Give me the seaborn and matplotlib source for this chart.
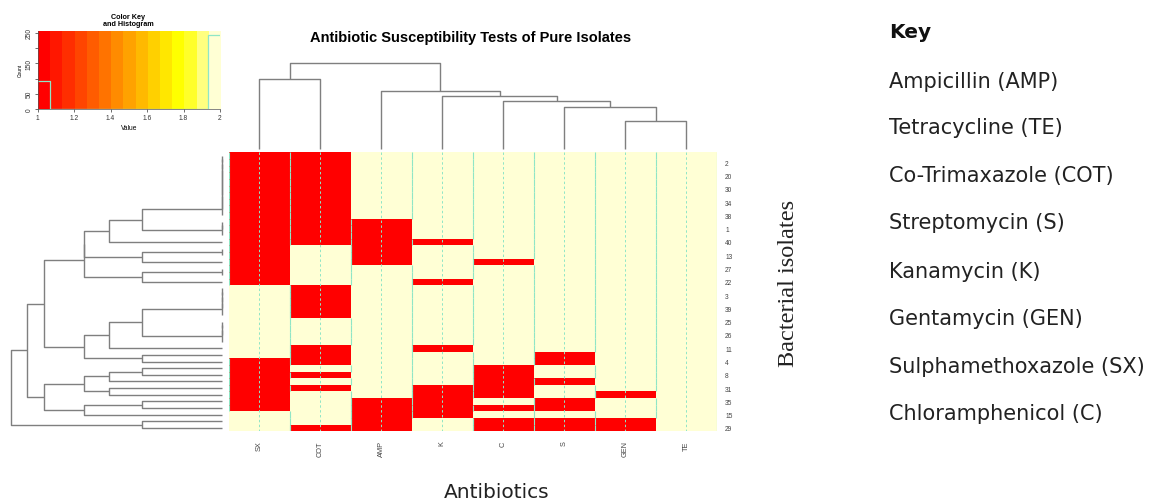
import numpy as np
import pandas as pd
import matplotlib
matplotlib.use("Agg")
import matplotlib.pyplot as plt
import seaborn as sns
from matplotlib.colors import ListedColormap, hsv_to_rgb
from matplotlib.collections import LineCollection

# ---------------- data ----------------
antibiotics = ["SX", "COT", "AMP", "K", "C", "S", "GEN", "TE"]

# value per isolate row (top to bottom, 42 rows): 1 = red, 2 = cream
SX  = "1111111111" "1111111111" "2222222222" "2" "11111111" "222"
COT = "1111111111" "1111" "222222" "11111" "2222" "111" "2" "1" "2" "1" "22222" "1"
AMP = "2222222222" "1111111" "2222222222" "2222222222" "11111"
K   = "2222222222" "222" "1" "22222" "1" "222222222" "1" "22222" "11111" "22"
C   = "2222222222" "222222" "1" "2222222222" "22222" "11111" "2" "1" "2" "11"
S   = "2222222222" "2222222222" "2222222222" "11" "22" "1" "22" "11" "2" "11"
GEN = "2222222222" "2222222222" "2222222222" "222222" "1" "222" "11"
TE  = "2222222222" "2222222222" "2222222222" "2222222222" "22"

# isolate labels printed on the right (every other row, as drawn)
isolate_labels = ["2", "20", "30", "34", "38", "1", "40", "13", "27", "22",
                  "3", "39", "25", "26", "11", "4", "8", "31", "35", "15", "29"]

# dendrogram topologies (leaf = row / column index)
tie_top = [[[[[[[[[0, 1], 2], 3], 4], 5], 6], 7], 8], 9]
branch_A = [[[tie_top, [[10, 11], 12]], 13], [[14, 15], 16]]
branch_E = [branch_A, [[17, 18], 19]]
branch_J = [[[[[20, 21], 22], 23], 24], [[[25, 26], 27], 28]]
branch_G = [[branch_J, 29], [30, 31]]
branch_L = [[[[32, 33], 34], [35, 36]], [[37, 38], 39]]
row_tree = [[[branch_E, branch_G], branch_L], [40, 41]]
col_tree = [[0, 1], [2, [3, [4, [5, [6, 7]]]]]]

key_title = "Key"
key_items = ["Ampicillin (AMP)", "Tetracycline (TE)", "Co-Trimaxazole (COT)",
             "Streptomycin (S)", "Kanamycin (K)", "Gentamycin (GEN)",
             "Sulphamethoxazole (SX)", "Chloramphenicol (C)"]

columns = [SX, COT, AMP, K, C, S, GEN, TE]
for col in columns:
    assert len(col) == 42, len(col)
X = np.array([[int(ch) for ch in col] for col in columns], dtype=float).T
df = pd.DataFrame(X, columns=antibiotics)
nrow, ncol = X.shape

# ---------------- colours (R heat.colors(15)) ----------------
hues = np.linspace(0, 1 / 6, 12)
heat = [hsv_to_rgb((h, 1, 1)) for h in hues]
heat += [hsv_to_rgb((1 / 6, s, 1)) for s in np.linspace(1 - 1 / 6, 1 / 6, 3)]
RED, CREAM = heat[0], heat[-1]
TRACE = "#8fe6c6"
DEND = "#7f7f7f"

# ---------------- figure ----------------
W, H = 1173, 502
fig = plt.figure(figsize=(W / 100, H / 100), dpi=100)


def add_ax(x0, y0, x1, y1):
    return fig.add_axes([x0 / W, 1 - y1 / H, (x1 - x0) / W, (y1 - y0) / H])


def ftext(x, y, s, **kw):
    return fig.text(x / W, 1 - y / H, s, **kw)


RFONT = ["Liberation Sans", "DejaVu Sans"]

# heatmap
HX0, HY0, HX1, HY1 = 229, 153.3, 716.7, 432.3
ax = add_ax(HX0, HY0, HX1, HY1)
sns.heatmap(df, ax=ax, cmap=ListedColormap([RED, CREAM]), vmin=1, vmax=2,
            cbar=False, xticklabels=antibiotics, yticklabels=False)
# trace lines (heatmap.2 style): dashed centre lines and per-cell trace
trace_segs = []
for i in range(ncol):
    ax.plot([i + 0.5, i + 0.5], [0, nrow], color=TRACE, lw=0.7,
            dashes=(2.5, 2.5), zorder=3)
    xs = i + 0.5 + (X[:, i] - 1.5)
    for j in range(nrow):
        trace_segs.append([(xs[j], j), (xs[j], j + 1)])
ax.add_collection(LineCollection(trace_segs, colors=TRACE, linewidths=0.8,
                                 zorder=3))
ax.set_xlim(0, ncol)
ax.set_ylim(nrow, 0)
ax.tick_params(axis="x", length=0, pad=6.5, labelsize=5.3, colors="#444444")
for t in ax.get_xticklabels():
    t.set_rotation(90)
    t.set_va("top")
    t.set_family(RFONT)
ax.yaxis.tick_right()
ax.set_yticks(np.arange(1, nrow, 2) + 0.5)
ax.set_yticklabels(isolate_labels, fontsize=4.8, color="#444444", family=RFONT)
ax.tick_params(axis="y", length=0, pad=6)
ax.set_xlabel("")
ax.set_ylabel("")


def build(node, segs):
    if isinstance(node, int):
        return node + 0.5, 0.0, [node]
    pl, hl, ll = build(node[0], segs)
    pr, hr, lr = build(node[1], segs)
    h = max(np.linalg.norm(X[a] - X[b]) for a in ll for b in lr)
    segs.append([(hl, pl), (h, pl), (h, pr), (hr, pr)])
    return (pl + pr) / 2, h, ll + lr


def build_col(node, segs):
    if isinstance(node, int):
        return node + 0.5, 0.0, [node]
    pl, hl, ll = build_col(node[0], segs)
    pr, hr, lr = build_col(node[1], segs)
    h = max(np.linalg.norm(X[:, a] - X[:, b]) for a in ll for b in lr)
    segs.append([(pl, hl), (pl, h), (pr, h), (pr, hr)])
    return (pl + pr) / 2, h, ll + lr


# row dendrogram
rsegs = []
_, rh, _ = build(row_tree, rsegs)
axr = add_ax(0, HY0, 225, HY1)
axr.add_collection(LineCollection(rsegs, colors=DEND, linewidths=1.0))
s_r = (221.7 - 11) / rh
axr.set_xlim(221.7 / s_r, -(225 - 221.7) / s_r)
axr.set_ylim(nrow, 0)
axr.axis("off")

# column dendrogram
csegs = []
_, ch, _ = build_col(col_tree, csegs)
axc = add_ax(HX0, 55, HX1, HY0)
axc.add_collection(LineCollection(csegs, colors=DEND, linewidths=1.0))
s_c = (150 - 64) / ch
axc.set_ylim(-(HY0 - 150) / s_c, (150 - 55) / s_c)
axc.set_xlim(0, ncol)
axc.axis("off")

# colour key + histogram
axk = add_ax(37.7, 31.7, 220, 110)
breaks = np.linspace(1, 2, len(heat) + 1)
counts, _ = np.histogram(X.ravel(), bins=breaks)
ytop = counts.max() / 0.95
axk.imshow(np.arange(len(heat))[None, :], extent=[1, 2, 0, ytop], aspect="auto",
           cmap=ListedColormap(heat), interpolation="nearest")
axk.step(breaks, np.append(counts, counts[-1]), where="post", color=TRACE, lw=0.9)
axk.set_xlim(1, 2)
axk.set_ylim(0, ytop)
axk.set_xticks([1, 1.2, 1.4, 1.6, 1.8, 2])
axk.set_xticklabels(["1", "1.2", "1.4", "1.6", "1.8", "2"], family=RFONT)
axk.set_yticks([0, 50, 100, 150, 200, 250])
axk.set_yticklabels(["0", "50", "", "150", "", "250"], rotation=90,
                    va="center", family=RFONT)
axk.tick_params(labelsize=4.8, length=2, width=0.5, pad=1.5, colors="#333333")
for side in ["top", "right"]:
    axk.spines[side].set_visible(False)
for side in ["left", "bottom"]:
    axk.spines[side].set_linewidth(0.5)
    axk.spines[side].set_color("#555555")
axk.set_xlabel("Value", fontsize=4.8, labelpad=2, family=RFONT)
axk.set_ylabel("Count", fontsize=3.5, labelpad=2, family=RFONT)
ftext(128, 21, "Color Key\nand Histogram", ha="center", va="center",
      fontsize=5.2, weight="bold", linespacing=0.95, family=RFONT)

# title and axis titles
ftext(471, 38, "Antibiotic Susceptibility Tests of Pure Isolates", ha="center",
      va="center", fontsize=10.5, weight="bold", family=RFONT)
KFONT = ["DejaVu Sans"]
ftext(496.5, 493, "Antibiotics", ha="center", va="center", fontsize=14.5,
      family=KFONT, color="#222222")
ftext(788, 283, "Bacterial isolates", ha="center", va="center", rotation=90,
      fontsize=17.5, family=["Liberation Serif", "DejaVu Serif"], color="#222222")

# key on the right
ftext(889, 33, key_title, ha="left", va="center", fontsize=14.5,
      weight="bold", family=KFONT, color="#111111")
key_y = [81.7, 128, 175.7, 223, 271.7, 319, 366.7, 414]
for yy, item in zip(key_y, key_items):
    ftext(889, yy, item, ha="left", va="center", fontsize=15,
          family=KFONT, color="#222222")

fig.savefig("out.png", dpi=100, facecolor="white")
